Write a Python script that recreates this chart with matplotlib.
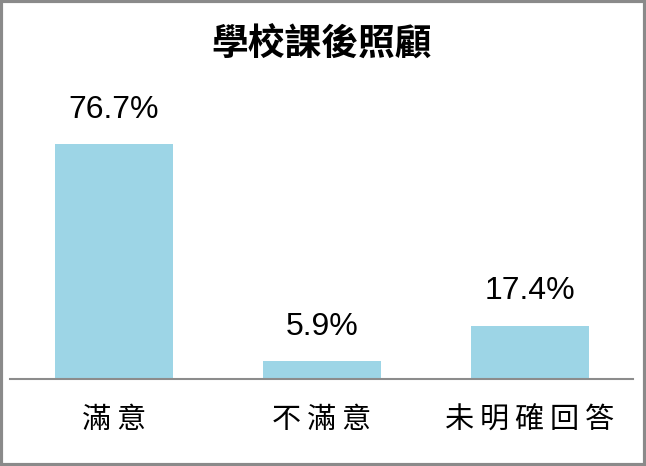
import matplotlib
matplotlib.use("Agg")
import matplotlib.pyplot as plt
from matplotlib.patches import Rectangle

# Datos del gráfico
titulo = "學校課後照顧"
categorias = ["滿意", "不滿意", "未明確回答"]
valores = [76.7, 5.9, 17.4]
etiquetas = ["76.7%", "5.9%", "17.4%"]

cjk = ["Noto Sans CJK TC", "DejaVu Sans"]
color_barra = "#9dd5e6"

fig = plt.figure(figsize=(6.46, 4.66), dpi=100)
ax = fig.add_axes([10 / 646, 87 / 466, 623 / 646, 339 / 466])

x = list(range(len(categorias)))
ax.bar(x, valores, width=0.567, color=color_barra)

# Etiquetas de valor sobre cada barra
for xi, v, txt in zip(x, valores, etiquetas):
    ax.annotate(txt, (xi, v), xytext=(0, 19), textcoords="offset points",
                ha="center", va="baseline", fontsize=23,
                family="Liberation Sans", color="black")

ax.set_xlim(-0.5, 2.495)
ax.set_ylim(0, 110.6)
ax.set_xticks(x)
# separación entre caracteres como en el original
ax.set_xticklabels(["\u2009".join(c) for c in categorias], family=cjk, fontsize=21)
ax.tick_params(axis="x", length=0, pad=19)
ax.set_yticks([])

for lado in ["top", "right", "left"]:
    ax.spines[lado].set_visible(False)
ax.spines["bottom"].set_color("#8c8c8c")
ax.spines["bottom"].set_linewidth(1.5)

fig.text(322 / 646, 1 - 45 / 466, titulo, ha="center", va="center",
         family=cjk, fontsize=26.5, fontweight="bold")

# Marco gris alrededor de la figura
fig.patches.append(Rectangle((0.002, 0.003), 0.996, 0.994, transform=fig.transFigure,
                             fill=False, edgecolor="#8a8a8a", linewidth=3))

fig.savefig("out.png", dpi=100)
